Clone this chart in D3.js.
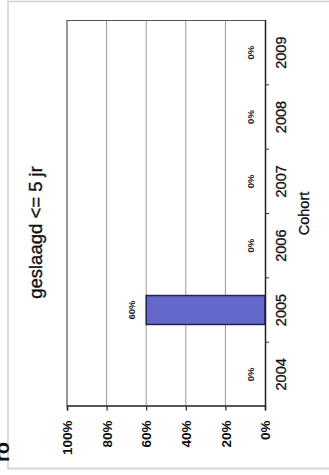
<!DOCTYPE html>
<html>
<head>
<meta charset="utf-8">
<script src="https://cdn.jsdelivr.net/npm/d3@7"></script>
<style>
html,body{margin:0;padding:0;background:#fff;}
svg{display:block;font-family:"Liberation Sans",Arial,sans-serif;}
</style>
</head>
<body>
<svg id="c" width="329" height="475"></svg>
<script>
const categories = ["2004","2005","2006","2007","2008","2009"];
const values = [0, 0.6, 0, 0, 0, 0];
const valueTicks = [0, 0.2, 0.4, 0.6, 0.8, 1.0];
const title = "geslaagd <= 5 jr";
const axisTitle = "Cohort";

const svg = d3.select("#c");

// outer frame (light gray)
svg.append("path").attr("d","M8,469 L8,1.5 L329,1.5").attr("fill","none").attr("stroke","#d0d0d0").attr("stroke-width",1.5);
svg.append("line").attr("x1",8).attr("x2",329).attr("y1",468.5).attr("y2",468.5).attr("stroke","#d8d8d8").attr("stroke-width",2);

// cut-off page text fragment
svg.append("text").attr("transform","translate(9,462) rotate(-90)")
  .attr("font-size",20).attr("font-weight","bold").attr("fill","#111").text("ro");

// chart drawn as a column chart, rotated 90deg counter-clockwise
const W = 386, H = 198;
const g = svg.append("g").attr("transform","translate(67,406.5) rotate(-90)");

const x = d3.scaleBand().domain(categories).range([0, W]).paddingInner(0.55).paddingOuter(0.275);
const xb = d3.scaleBand().domain(categories).range([0, W]);
const y = d3.scaleLinear().domain([0,1]).range([H,0]);

// gridlines
g.selectAll("line.grid").data(valueTicks.filter(d=>d>0 && d<1)).enter().append("line")
  .attr("x1",0).attr("x2",W).attr("y1",d=>y(d)).attr("y2",d=>y(d))
  .attr("stroke","#9a9a9a").attr("stroke-width",1);
// plot border (top = 100%, right end)
g.append("path").attr("d",`M0,${y(1)} L${W},${y(1)} L${W},${H}`).attr("fill","none").attr("stroke","#555").attr("stroke-width",1.2);

// bars
g.selectAll("rect.bar").data(categories).enter().append("rect")
  .attr("x",d=>x(d)).attr("width",x.bandwidth())
  .attr("y",(d,i)=>y(values[i])).attr("height",(d,i)=>H-y(values[i]))
  .attr("fill","#6468c8").attr("stroke","#23244a").attr("stroke-width",1.5);

// value axis (left in unrotated frame)
const yAxis = d3.axisLeft(y).tickValues(valueTicks).tickFormat(d3.format(".0%")).tickSize(4).tickPadding(10);
const ya = g.append("g").call(yAxis);
ya.select(".domain").attr("stroke","#222").attr("stroke-width",1.5);
ya.selectAll(".tick line").attr("stroke","#222").attr("stroke-width",1.2);
ya.selectAll(".tick text").attr("font-size",13.5).attr("font-weight","bold").attr("fill","#111")
  .attr("font-family","Liberation Sans, Arial, sans-serif").attr("dy","0.35em");

// category axis (bottom in unrotated frame)
const xAxis = d3.axisBottom(xb).tickSize(0).tickPadding(11);
const xa = g.append("g").attr("transform",`translate(0,${H})`).call(xAxis);
xa.select(".domain").attr("stroke","#222").attr("stroke-width",1.5);
xa.selectAll(".tick text").attr("font-size",14.5).attr("fill","#111")
  .attr("stroke","#111").attr("stroke-width",0.3)
  .attr("font-family","Liberation Sans, Arial, sans-serif");
// boundary tick marks
g.selectAll("line.ctick").data(categories.slice(1)).enter().append("line")
  .attr("x1",d=>xb(d)).attr("x2",d=>xb(d)).attr("y1",H).attr("y2",H+4)
  .attr("stroke","#333").attr("stroke-width",1);

// data labels
g.selectAll("text.lab").data(categories).enter().append("text")
  .attr("x",d=>x(d)+x.bandwidth()/2).attr("y",(d,i)=>y(values[i])-11)
  .attr("text-anchor","middle").attr("font-size",9.5).attr("font-weight","bold").attr("fill","#222")
  .text((d,i)=>d3.format(".0%")(values[i]));

// axis title
g.append("text").attr("x",W/2).attr("y",H+44).attr("text-anchor","middle")
  .attr("font-size",14.5).attr("fill","#111").attr("stroke","#111").attr("stroke-width",0.3).text(axisTitle);

// chart title
g.append("text").attr("x",174).attr("y",-25).attr("text-anchor","middle")
  .attr("font-size",18.5).attr("fill","#111").attr("stroke","#111").attr("stroke-width",0.35).text(title);
</script>
</body>
</html>
